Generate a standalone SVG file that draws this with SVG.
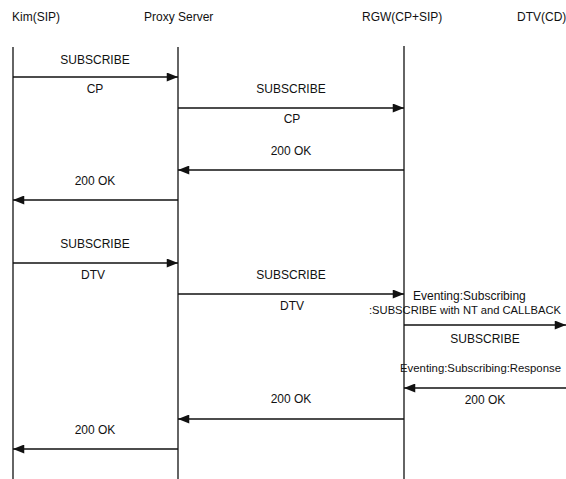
<svg xmlns="http://www.w3.org/2000/svg" width="566" height="479" viewBox="0 0 566 479">
<defs>
<style>
text{font-family:"Liberation Sans",Arial,sans-serif;font-size:12px;fill:#111;}
.c{text-anchor:middle;}
.s{font-size:11px;}
.life{stroke:#111;stroke-width:1.3;fill:none;}
.msg{stroke:#111;stroke-width:1.6;fill:none;}
</style>
<marker id="ah" viewBox="0 0 10 8" refX="10" refY="4" markerUnits="userSpaceOnUse" markerWidth="12" markerHeight="9" orient="auto">
<path d="M0,0 L10,4 L0,8 Z" fill="#111"/>
</marker>
</defs>
<rect width="566" height="479" fill="#fff"/>
<g id="kim"><text x="12" y="21">Kim(SIP)</text><line class="life" x1="13" y1="47" x2="13" y2="479"/></g>
<g id="proxy"><text x="144" y="21">Proxy Server</text><line class="life" x1="178" y1="47" x2="178" y2="479"/></g>
<g id="rgw"><text x="362" y="21">RGW(CP+SIP)</text><line class="life" x1="404" y1="46" x2="404" y2="479"/></g>
<g id="dtv"><text x="517" y="21">DTV(CD)</text></g>
<g id="connectors">
<line class="msg" x1="13" y1="77" x2="178" y2="77" marker-end="url(#ah)"/>
<line class="msg" x1="178" y1="108" x2="404" y2="108" marker-end="url(#ah)"/>
<line class="msg" x1="404" y1="170" x2="178" y2="170" marker-end="url(#ah)"/>
<line class="msg" x1="178" y1="200" x2="13" y2="200" marker-end="url(#ah)"/>
<line class="msg" x1="13" y1="263" x2="178" y2="263" marker-end="url(#ah)"/>
<line class="msg" x1="178" y1="294" x2="404" y2="294" marker-end="url(#ah)"/>
<line class="msg" x1="404" y1="325" x2="566" y2="325" marker-end="url(#ah)"/>
<line class="msg" x1="566" y1="388" x2="404" y2="388" marker-end="url(#ah)"/>
<line class="msg" x1="404" y1="419" x2="178" y2="419" marker-end="url(#ah)"/>
<line class="msg" x1="178" y1="449" x2="13" y2="449" marker-end="url(#ah)"/>
</g>
<g id="labels">
<text class="c" x="95" y="64">SUBSCRIBE</text>
<text class="c" x="95" y="93">CP</text>
<text class="c" x="291" y="93">SUBSCRIBE</text>
<text class="c" x="292" y="123">CP</text>
<text class="c" x="291" y="155">200 OK</text>
<text class="c" x="95" y="185">200 OK</text>
<text class="c" x="95" y="248">SUBSCRIBE</text>
<text class="c" x="93" y="279">DTV</text>
<text class="c" x="291" y="279">SUBSCRIBE</text>
<text class="c" x="292" y="310">DTV</text>
<text x="413" y="300">Eventing:Subscribing</text>
<text class="s" x="369" y="314" textLength="192" lengthAdjust="spacingAndGlyphs">:SUBSCRIBE with NT and CALLBACK</text>
<text class="c" x="485" y="343">SUBSCRIBE</text>
<text class="s" x="400" y="372" textLength="161" lengthAdjust="spacingAndGlyphs">Eventing:Subscribing:Response</text>
<text class="c" x="485" y="404">200 OK</text>
<text class="c" x="291" y="403">200 OK</text>
<text class="c" x="95" y="434">200 OK</text>
</g>
</svg>
